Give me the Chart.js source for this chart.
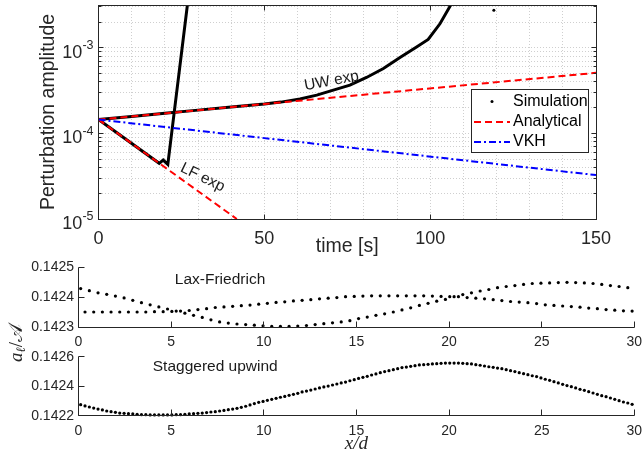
<!DOCTYPE html>
<html>
<head>
<meta charset="utf-8">
<script src="https://cdn.jsdelivr.net/npm/chart.js@4.4.0/dist/chart.umd.min.js"></script>
<style>
html, body { margin: 0; padding: 0; background: #fff; }
#wrap { position: relative; width: 643px; height: 461px; }
canvas { position: absolute; left: 0; top: 0; }
</style>
</head>
<body>
<div id="wrap">
  <canvas id="growth" width="643" height="461"></canvas>
  <canvas id="laxf" width="643" height="461"></canvas>
  <canvas id="stag" width="643" height="461"></canvas>
</div>
<script>
// ---- top panel: perturbation amplitude vs time ----
const simUwTime = [0, 10, 20, 30, 40, 50, 55, 60.75, 65.8, 70.8, 75.8, 80.8, 85.9, 90.9, 95.9, 99.4, 103, 106.2];
const simUwAmp = [1.45e-4, 1.58e-4, 1.72e-4, 1.87e-4, 2.03e-4, 2.2e-4, 2.32e-4, 2.52e-4, 2.8e-4, 3.2e-4, 3.66e-4, 4.5e-4, 5.73e-4, 7.7e-4, 1.02e-3, 1.25e-3, 1.92e-3, 3.16e-3];
const simLfTime = [0, 18.3, 19.5, 20.9, 26.8];
const simLfAmp = [1.45e-4, 4.47e-5, 4.88e-5, 4.35e-5, 3.16e-3];
const simStrayTime = [119.2];
const simStrayAmp = [2.75e-3];
const anaUwTime = [0, 150];
const anaUwAmp = [1.45e-4, 5.1e-4];
const anaLfTime = [0, 41.7];
const anaLfAmp = [1.45e-4, 1e-5];
const vkhTime = [0, 150];
const vkhAmp = [1.45e-4, 3.26e-5];
const timeTicks = [0, 50, 100, 150];
const ampDecades = [-5, -4, -3];

// ---- bottom panels: a_l / A along x/d ----
// Lax-Friedrich: two interleaved families of grid points
const lfEven = [0.142429, 0.142422, 0.142415, 0.142410, 0.142404, 0.142398, 0.142390, 0.142382, 0.142375, 0.142368,
  0.142361, 0.142354, 0.142347, 0.142340, 0.142333, 0.142325, 0.142318, 0.142314, 0.142311, 0.142309,
  0.142307, 0.142305, 0.142303, 0.142303, 0.142303, 0.142304, 0.142306, 0.142309, 0.142312, 0.142315,
  0.142318, 0.142322, 0.142329, 0.142334, 0.142340, 0.142345, 0.142351, 0.142358, 0.142365, 0.142373,
  0.142380, 0.142387, 0.142393, 0.142402, 0.142409, 0.142415, 0.142421, 0.142426, 0.142432, 0.142436,
  0.142439, 0.142443, 0.142446, 0.142447, 0.142448, 0.142449, 0.142450, 0.142449, 0.142448, 0.142446,
  0.142443, 0.142439, 0.142436, 0.142432];
const lfOdd = [0.142351, 0.142351, 0.142351, 0.142351, 0.142351, 0.142351, 0.142351, 0.142351, 0.142352, 0.142352,
  0.142353, 0.142354, 0.142356, 0.142359, 0.142362, 0.142366, 0.142368, 0.142370, 0.142372, 0.142374,
  0.142377, 0.142380, 0.142383, 0.142385, 0.142388, 0.142390, 0.142392, 0.142395, 0.142397, 0.142399,
  0.142402, 0.142403, 0.142404, 0.142405, 0.142405, 0.142405, 0.142405, 0.142405, 0.142405, 0.142405,
  0.142404, 0.142403, 0.142402, 0.142402, 0.142399, 0.142397, 0.142395, 0.142392, 0.142389, 0.142386,
  0.142384, 0.142382, 0.142379, 0.142375, 0.142373, 0.142371, 0.142369, 0.142367, 0.142364, 0.142362,
  0.142359, 0.142357, 0.142355, 0.142354];
// Staggered upwind: every grid point
const suVals = [0.142275, 0.142266, 0.142259, 0.142252, 0.142245, 0.142239, 0.142232, 0.142227, 0.142223, 0.142218,
  0.142216, 0.142214, 0.142212, 0.142209, 0.142207, 0.142207, 0.142205, 0.142205, 0.142205, 0.142205,
  0.142205, 0.142205, 0.142207, 0.142207, 0.142209, 0.142212, 0.142214, 0.142216, 0.142218, 0.142221,
  0.142225, 0.142227, 0.142232, 0.142236, 0.142241, 0.142245, 0.142250, 0.142257, 0.142264, 0.142273,
  0.142282, 0.142291, 0.142297, 0.142304, 0.142311, 0.142318, 0.142325, 0.142331, 0.142338, 0.142345,
  0.142352, 0.142361, 0.142367, 0.142374, 0.142381, 0.142388, 0.142395, 0.142401, 0.142408, 0.142415,
  0.142422, 0.142428, 0.142437, 0.142444, 0.142453, 0.142460, 0.142467, 0.142476, 0.142483, 0.142492,
  0.142499, 0.142505, 0.142512, 0.142519, 0.142526, 0.142530, 0.142535, 0.142539, 0.142544, 0.142546,
  0.142548, 0.142551, 0.142553, 0.142555, 0.142557, 0.142557, 0.142557, 0.142557, 0.142555, 0.142553,
  0.142551, 0.142546, 0.142542, 0.142537, 0.142532, 0.142528, 0.142523, 0.142519, 0.142512, 0.142505,
  0.142499, 0.142492, 0.142485, 0.142478, 0.142471, 0.142465, 0.142456, 0.142447, 0.142440, 0.142431,
  0.142422, 0.142413, 0.142404, 0.142397, 0.142388, 0.142379, 0.142372, 0.142363, 0.142354, 0.142345,
  0.142336, 0.142329, 0.142320, 0.142311, 0.142302, 0.142293, 0.142286, 0.142277];
const domainLength = 30;
const lfTicks = [0.1423, 0.1424, 0.1425];
const suTicks = [0.1422, 0.1424, 0.1426];

// cell-centred grid, 128 cells over x/d = 0..30
const nCells = suVals.length;
const dx = domainLength / nCells;
const suX = suVals.map((v, i) => (i + 0.5) * dx);
const lfEvenX = lfEven.map((v, k) => (2 * k + 0.5) * dx);
const lfOddX = lfOdd.map((v, k) => (2 * k + 1.5) * dx);

const pts = (xs, ys) => xs.map((x, i) => ({ x: x, y: ys[i] }));

const ink = '#262626';
const sans = "'Liberation Sans', Arial, Helvetica, sans-serif";
const serif = "'Liberation Serif', 'DejaVu Serif', serif";
Chart.defaults.font.family = sans;
Chart.defaults.color = ink;

const crisp = v => Math.round(v - 0.5) + 0.5;

// fixed axis box size so the chart area lands where it should
function fixSize(size) {
  return scale => {
    if (scale.isHorizontal()) scale.height = size; else scale.width = size;
    scale.paddingLeft = scale.paddingRight = scale.paddingTop = scale.paddingBottom = 0;
  };
}

// log grid values: 1..9 x 10^e
const ampMax = Math.pow(10, -2.5);
const ampGrid = [];
for (let e = -5; e <= -3; e++) {
  for (let s = 1; s <= 9; s++) {
    const v = s * Math.pow(10, e);
    if (v <= ampMax) ampGrid.push(v);
  }
}

function rotText(ctx, txt, x, y, angle, font) {
  ctx.save();
  ctx.translate(x, y);
  ctx.rotate(angle * Math.PI / 180);
  ctx.font = font;
  ctx.textAlign = 'center';
  ctx.textBaseline = 'middle';
  ctx.fillText(txt, 0, 0);
  ctx.restore();
}

const growthDecor = {
  id: 'growthDecor',
  afterDraw(chart) {
    const { ctx, chartArea: a, scales: { x, y } } = chart;
    ctx.save();
    ctx.strokeStyle = ink;
    ctx.lineWidth = 1;
    const L = crisp(a.left), R = crisp(a.right), T = crisp(a.top), B = crisp(a.bottom);
    ctx.strokeRect(L, T, R - L, B - T);
    ctx.beginPath();
    timeTicks.forEach(t => {
      const px = crisp(x.getPixelForValue(t));
      ctx.moveTo(px, B); ctx.lineTo(px, B - 5);
      ctx.moveTo(px, T); ctx.lineTo(px, T + 5);
    });
    ampGrid.forEach(v => {
      const py = crisp(y.getPixelForValue(v));
      const len = Math.abs(Math.log10(v) - Math.round(Math.log10(v))) < 1e-9 ? 5 : 3;
      ctx.moveTo(L, py); ctx.lineTo(L + len, py);
      ctx.moveTo(R, py); ctx.lineTo(R - len, py);
    });
    ctx.stroke();

    // y tick labels 10^e
    ctx.fillStyle = ink;
    ctx.textAlign = 'right';
    ctx.textBaseline = 'middle';
    ampDecades.forEach(e => {
      const py = y.getPixelForValue(Math.pow(10, e));
      const expTxt = '-' + Math.abs(e);
      ctx.font = '12.5px ' + sans;
      const ew = ctx.measureText(expTxt).width;
      ctx.fillText(expTxt, a.left - 5, py - 2);
      ctx.font = '18px ' + sans;
      ctx.fillText('10', a.left - 5 - ew, py + 5);
    });

    // axis titles
    rotText(ctx, 'Perturbation amplitude', 49, (a.top + a.bottom) / 2, -90, '19.5px ' + sans);
    rotText(ctx, 'time [s]', (a.left + a.right) / 2, 247, 0, '19.5px ' + sans);

    // curve annotations
    ctx.fillStyle = '#1a1a1a';
    rotText(ctx, 'UW exp', x.getPixelForValue(70.3), y.getPixelForValue(4.1e-4), -10.5, '15.5px ' + sans);
    rotText(ctx, 'LF exp', x.getPixelForValue(31.4), y.getPixelForValue(3.05e-5), 26, '15.5px ' + sans);

    // legend
    const lx = 471.5, ly = 89.5, lw = 117, lh = 63;
    ctx.fillStyle = '#fff';
    ctx.fillRect(lx, ly, lw, lh);
    ctx.strokeStyle = ink;
    ctx.lineWidth = 1;
    ctx.strokeRect(lx, ly, lw, lh);
    const rows = [
      { label: 'Simulation', y: 101.5 },
      { label: 'Analytical', y: 122, color: '#ff0000', dash: [7, 4] },
      { label: 'VKH', y: 142, color: '#0000ff', dash: [7, 3, 2, 3] }
    ];
    rows.forEach(r => {
      if (r.color) {
        ctx.save();
        ctx.strokeStyle = r.color;
        ctx.lineWidth = 2;
        ctx.setLineDash(r.dash);
        ctx.beginPath();
        ctx.moveTo(474, r.y); ctx.lineTo(510, r.y);
        ctx.stroke();
        ctx.restore();
      } else {
        ctx.fillStyle = '#000';
        ctx.beginPath();
        ctx.arc(492, r.y, 1.5, 0, Math.PI * 2);
        ctx.fill();
      }
      ctx.fillStyle = '#000';
      ctx.font = '16px ' + sans;
      ctx.textAlign = 'left';
      ctx.textBaseline = 'middle';
      ctx.fillText(r.label, 513, r.y);
    });
    ctx.restore();
  }
};

new Chart(document.getElementById('growth'), {
  type: 'scatter',
  data: {
    datasets: [
      { label: 'VKH', data: pts(vkhTime, vkhAmp), showLine: true, borderColor: '#0000ff', borderWidth: 2, borderDash: [7, 3, 2, 3], pointRadius: 0 },
      { label: 'Analytical', data: pts(anaUwTime, anaUwAmp), showLine: true, borderColor: '#ff0000', borderWidth: 2, borderDash: [7, 4], pointRadius: 0 },
      { label: 'Analytical', data: pts(anaLfTime, anaLfAmp), showLine: true, borderColor: '#ff0000', borderWidth: 2, borderDash: [7, 4], pointRadius: 0 },
      { label: 'Simulation', data: pts(simUwTime, simUwAmp), showLine: true, borderColor: '#000', borderWidth: 3, pointRadius: 0 },
      { label: 'Simulation', data: pts(simLfTime, simLfAmp), showLine: true, borderColor: '#000', borderWidth: 3, pointRadius: 0 },
      { label: 'Simulation', data: pts(simStrayTime, simStrayAmp), showLine: false, backgroundColor: '#000', borderWidth: 0, pointRadius: 1.5 }
    ]
  },
  options: {
    responsive: false,
    animation: false,
    devicePixelRatio: 1,
    events: [],
    layout: { padding: { left: 98.5, right: 47, top: 5, bottom: 461 - 219 - 40 } },
    plugins: { legend: { display: false }, tooltip: { enabled: false } },
    scales: {
      x: {
        type: 'linear', min: 0, max: 150,
        ticks: { stepSize: 10, autoSkip: false, maxRotation: 0, padding: 9, font: { size: 18 }, color: ink,
          callback: v => (timeTicks.includes(v) ? String(v) : '') },
        grid: { color: '#cfcfcf', drawTicks: false },
        border: { display: false, dash: [1, 2] },
        afterFit: fixSize(40)
      },
      y: {
        type: 'logarithmic', min: 1e-5, max: ampMax,
        ticks: { display: false },
        afterBuildTicks: s => { s.ticks = ampGrid.map(v => ({ value: v })); },
        grid: { color: '#cfcfcf', drawTicks: false },
        border: { display: false, dash: [1, 2] },
        afterFit: fixSize(0)
      }
    }
  },
  plugins: [growthDecor]
});

// ---- bottom panels ----
function panelDecor(id, title, tx, ty, yTicks, extra) {
  return {
    id: id,
    afterDraw(chart) {
      const { ctx, chartArea: a, scales: { x, y } } = chart;
      ctx.save();
      ctx.strokeStyle = ink;
      ctx.lineWidth = 1;
      const L = crisp(a.left), B = crisp(a.bottom);
      ctx.beginPath();
      ctx.moveTo(L, crisp(a.top)); ctx.lineTo(L, B); ctx.lineTo(crisp(a.right), B);
      for (let t = 0; t <= domainLength; t += 5) {
        const px = crisp(x.getPixelForValue(t));
        ctx.moveTo(px, B); ctx.lineTo(px, B - 6);
      }
      yTicks.forEach(v => {
        const py = crisp(y.getPixelForValue(v));
        ctx.moveTo(L, py); ctx.lineTo(L + 6, py);
      });
      ctx.stroke();
      ctx.fillStyle = '#1a1a1a';
      rotText(ctx, title, x.getPixelForValue(tx), y.getPixelForValue(ty), 0, '15.5px ' + sans);
      if (extra) extra(ctx, a);
      ctx.restore();
    }
  };
}

function panelOptions(top, bottom, yTicks, labelGap) {
  return {
    responsive: false,
    animation: false,
    devicePixelRatio: 1,
    events: [],
    layout: { padding: { left: 78.5 - 70, right: 8.7, top: top, bottom: 461 - bottom - 25 } },
    plugins: { legend: { display: false }, tooltip: { enabled: false } },
    scales: {
      x: {
        type: 'linear', min: 0, max: domainLength,
        ticks: { stepSize: 5, autoSkip: false, maxRotation: 0, padding: labelGap, font: { size: 14 }, color: ink },
        grid: { display: false, drawTicks: false },
        border: { display: false },
        afterFit: fixSize(25)
      },
      y: {
        type: 'linear', min: yTicks[0], max: yTicks[yTicks.length - 1],
        afterBuildTicks: s => { s.ticks = yTicks.map(v => ({ value: v })); },
        ticks: { padding: 4.5, font: { size: 14 }, color: ink, callback: v => v.toFixed(4) },
        grid: { display: false, drawTicks: false },
        border: { display: false },
        afterFit: fixSize(70)
      }
    }
  };
}

const dotStyle = { showLine: false, backgroundColor: '#000', borderWidth: 0, pointRadius: 1.6, clip: false };

new Chart(document.getElementById('laxf'), {
  type: 'scatter',
  data: {
    datasets: [
      Object.assign({ label: 'even', data: pts(lfEvenX, lfEven) }, dotStyle),
      Object.assign({ label: 'odd', data: pts(lfOddX, lfOdd) }, dotStyle)
    ]
  },
  options: panelOptions(267.3, 327.3, lfTicks, 6),
  plugins: [panelDecor('lfDecor', 'Lax-Friedrich', 7.64, 0.142458, lfTicks)]
});

new Chart(document.getElementById('stag'), {
  type: 'scatter',
  data: {
    datasets: [Object.assign({ label: 'staggered', data: pts(suX, suVals) }, dotStyle)]
  },
  options: panelOptions(356.7, 415.7, suTicks, 7.5),
  plugins: [panelDecor('suDecor', 'Staggered upwind', 7.38, 0.142532, suTicks, (ctx, a) => {
    ctx.fillStyle = ink;
    rotText(ctx, 'x/d', (a.left + a.right) / 2, 444, 0, 'italic 19px ' + serif);
    // y label a_l / A spanning both panels
    ctx.save();
    ctx.translate(16, 343);
    ctx.rotate(-Math.PI / 2);
    ctx.textBaseline = 'alphabetic';
    ctx.textAlign = 'left';
    const parts = [
      { t: 'a', f: 'italic 19px ' + serif, dy: 0 },
      { t: '\u2113', f: 'italic 13px ' + serif, dy: 3 },
      { t: '/', f: '19px ' + serif, dy: 0 },
      { t: '\uD835\uDC9C', f: '19px ' + serif, dy: 0 }
    ];
    let w = 0;
    parts.forEach(p => { ctx.font = p.f; w += ctx.measureText(p.t).width; });
    let cx = -w / 2;
    parts.forEach(p => {
      ctx.font = p.f;
      ctx.fillText(p.t, cx, 6 + p.dy);
      cx += ctx.measureText(p.t).width;
    });
    ctx.restore();
  })]
});
</script>
</body>
</html>
